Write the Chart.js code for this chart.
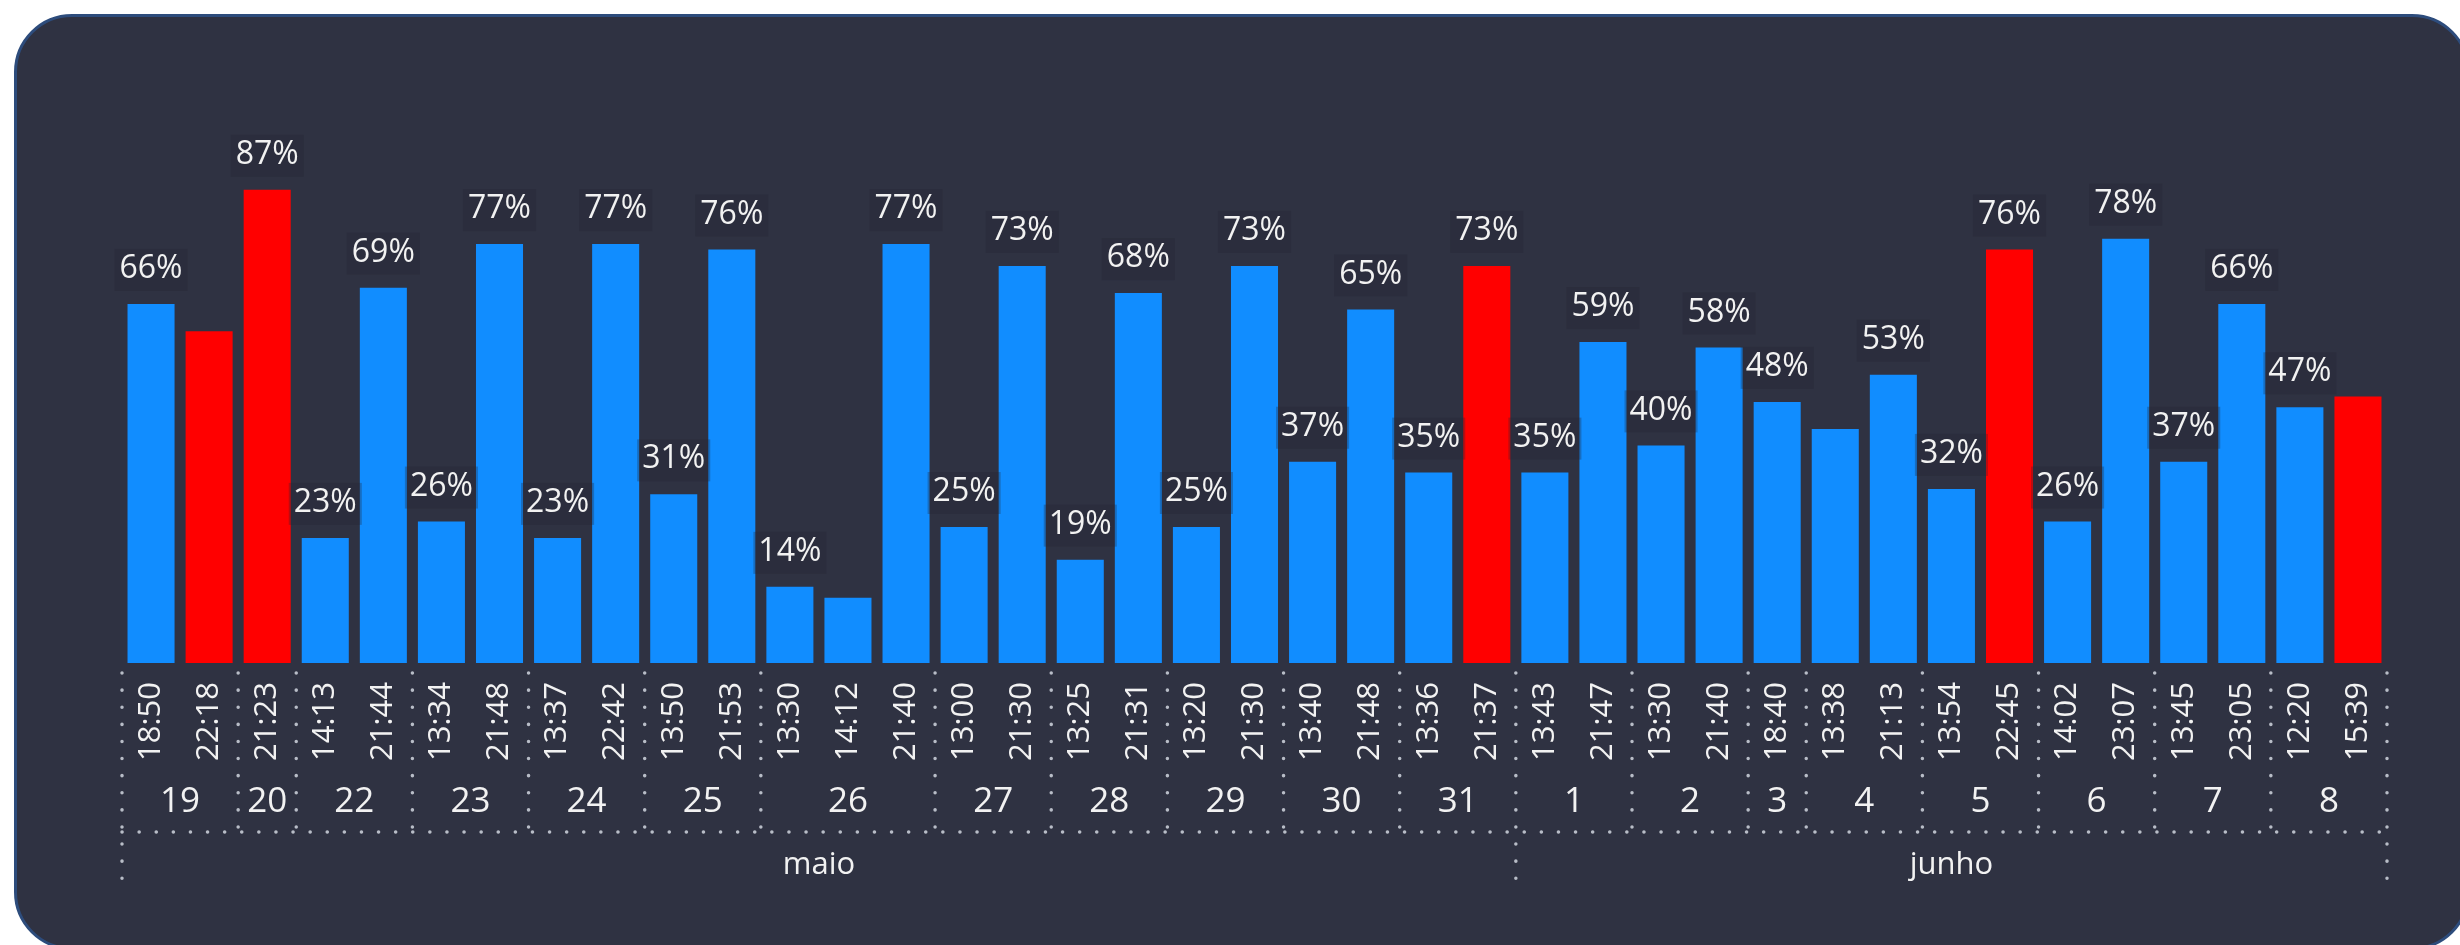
<!DOCTYPE html>
<html>
<head>
<meta charset="utf-8">
<script src="https://cdn.jsdelivr.net/npm/chart.js@4"></script>
<style>
  html, body { margin: 0; padding: 0; background: #ffffff; overflow: hidden; }
  #panel {
    position: absolute; left: 14px; top: 14px; width: 2456px; height: 936px;
    box-sizing: border-box; border: 3px solid #2d4c7c; border-radius: 58px;
    background: #2f3242;
  }
  #wrap { position: absolute; left: 0; top: 0; width: 2460px; height: 945px; }
</style>
</head>
<body>
<div id="panel"></div>
<div id="wrap"><canvas id="chart" width="2460" height="945"></canvas></div>
<script>
var times = ['18:50','22:18','21:23','14:13','21:44','13:34','21:48','13:37','22:42','13:50','21:53',
	'13:30','14:12','21:40','13:00','21:30','13:25','21:31','13:20','21:30','13:40','21:48','13:36','21:37',
	'13:43','21:47','13:30','21:40','18:40','13:38','21:13','13:54','22:45','14:02','23:07','13:45','23:05','12:20','15:39'];
var days = ['19','19','20','22','22','23','23','24','24','25','25',
	'26','26','26','27','27','28','28','29','29','30','30','31','31',
	'1','1','2','2','3','4','4','5','5','6','6','7','7','8','8'];
var months = ['maio','maio','maio','maio','maio','maio','maio','maio','maio','maio','maio',
	'maio','maio','maio','maio','maio','maio','maio','maio','maio','maio','maio','maio','maio',
	'junho','junho','junho','junho','junho','junho','junho','junho','junho','junho','junho','junho','junho','junho','junho'];
var values = [66,61,87,23,69,26,77,23,77,31,76,
	14,12,77,25,73,19,68,25,73,37,65,35,73,
	35,59,40,58,48,43,53,32,76,26,78,37,66,47,49];
// red = alert bars
var alert = [0,1,1,0,0,0,0,0,0,0,0,
	0,0,0,0,0,0,0,0,0,0,0,0,1,
	0,0,0,0,0,0,0,0,1,0,0,0,0,0,1];
// labels that the original hides
var showLabel = [1,0,1,1,1,1,1,1,1,1,1,
	1,0,1,1,1,1,1,1,1,1,1,1,1,
	1,1,1,1,1,0,1,1,1,1,1,1,1,1,0];

var FONT = '"Segoe UI", "Open Sans", "Noto Sans", sans-serif';
var BLUE = '#118dff', RED = '#ff0000';

function dotted(ctx, x1, y1, x2, y2){
	ctx.beginPath();
	ctx.moveTo(x1, y1);
	ctx.lineTo(x2, y2);
	ctx.stroke();
}

var extras = {
	id: 'extras',
	afterDatasetsDraw: function(chart){
		var ctx = chart.ctx;
		var meta = chart.getDatasetMeta(0);
		ctx.save();
		ctx.font = '32px ' + FONT;
		ctx.textAlign = 'center';
		ctx.textBaseline = 'middle';
		meta.data.forEach(function(bar, i){
			if (!showLabel[i]) return;
			var txt = values[i] + '%';
			var y = bar.y - 35;
			var w = ctx.measureText(txt).width;
			ctx.fillStyle = 'rgba(36,38,50,0.3)';
			ctx.fillRect(bar.x - w/2 - 5, y - 20, w + 10, 42);
			ctx.fillStyle = '#f2f2f2';
			ctx.fillText(txt, bar.x, y);
		});
		ctx.restore();
	},
	afterDraw: function(chart){
		var ctx = chart.ctx;
		var xs = chart.scales.x;
		var pitch = xs.getPixelForValue(1) - xs.getPixelForValue(0);
		var top = chart.chartArea.bottom + 10;
		var rowY = 832, bottom = 890;
		var left = xs.getPixelForValue(0) - pitch/2;
		var right = xs.getPixelForValue(times.length - 1) + pitch/2;
		ctx.save();
		ctx.strokeStyle = 'rgba(200,204,214,0.9)';
		ctx.lineWidth = 3.5;
		ctx.lineCap = 'round';
		ctx.setLineDash([0.1, 17]);
		dotted(ctx, left, rowY, right, rowY);
		dotted(ctx, left, top, left, bottom);
		dotted(ctx, right, top, right, bottom);
		ctx.fillStyle = '#f2f2f2';
		ctx.textAlign = 'center';
		ctx.textBaseline = 'middle';
		// day groups
		var start = 0;
		for (var i = 1; i <= days.length; i++){
			if (i == days.length || days[i] != days[start] || months[i] != months[start]){
				var a = xs.getPixelForValue(start) - pitch/2;
				var b = xs.getPixelForValue(i - 1) + pitch/2;
				ctx.font = '35px ' + FONT;
				ctx.fillText(days[start], (a + b)/2, 802);
				if (i < days.length){
					if (months[i] != months[start]) dotted(ctx, b, top, b, bottom);
					else dotted(ctx, b, top, b, rowY);
				}
				start = i;
			}
		}
		// month groups
		start = 0;
		for (var j = 1; j <= months.length; j++){
			if (j == months.length || months[j] != months[start]){
				var a2 = xs.getPixelForValue(start) - pitch/2;
				var b2 = xs.getPixelForValue(j - 1) + pitch/2;
				ctx.font = '31px ' + FONT;
				ctx.fillText(months[start], (a2 + b2)/2, 865);
				start = j;
			}
		}
		ctx.restore();
	}
};

new Chart(document.getElementById('chart'), {
	type: 'bar',
	data: {
		labels: times,
		datasets: [{
			data: values,
			backgroundColor: alert.map(function(a){ return a ? RED : BLUE; }),
			barPercentage: 0.81,
			categoryPercentage: 1
		}]
	},
	options: {
		responsive: false,
		animation: false,
		layout: { padding: { left: 122, right: 73, top: 119, bottom: 0 } },
		plugins: { legend: { display: false }, tooltip: { enabled: false } },
		scales: {
			x: {
				grid: { display: false, drawTicks: false },
				border: { display: false },
				ticks: {
					color: '#f2f2f2',
					font: { size: 31, family: FONT },
					maxRotation: 90, minRotation: 90,
					padding: 19,
					autoSkip: false
				},
				afterFit: function(s){ s.height = 282; }
			},
			y: { display: false, min: 0, max: 100 }
		}
	},
	plugins: [extras]
});
</script>
</body>
</html>
